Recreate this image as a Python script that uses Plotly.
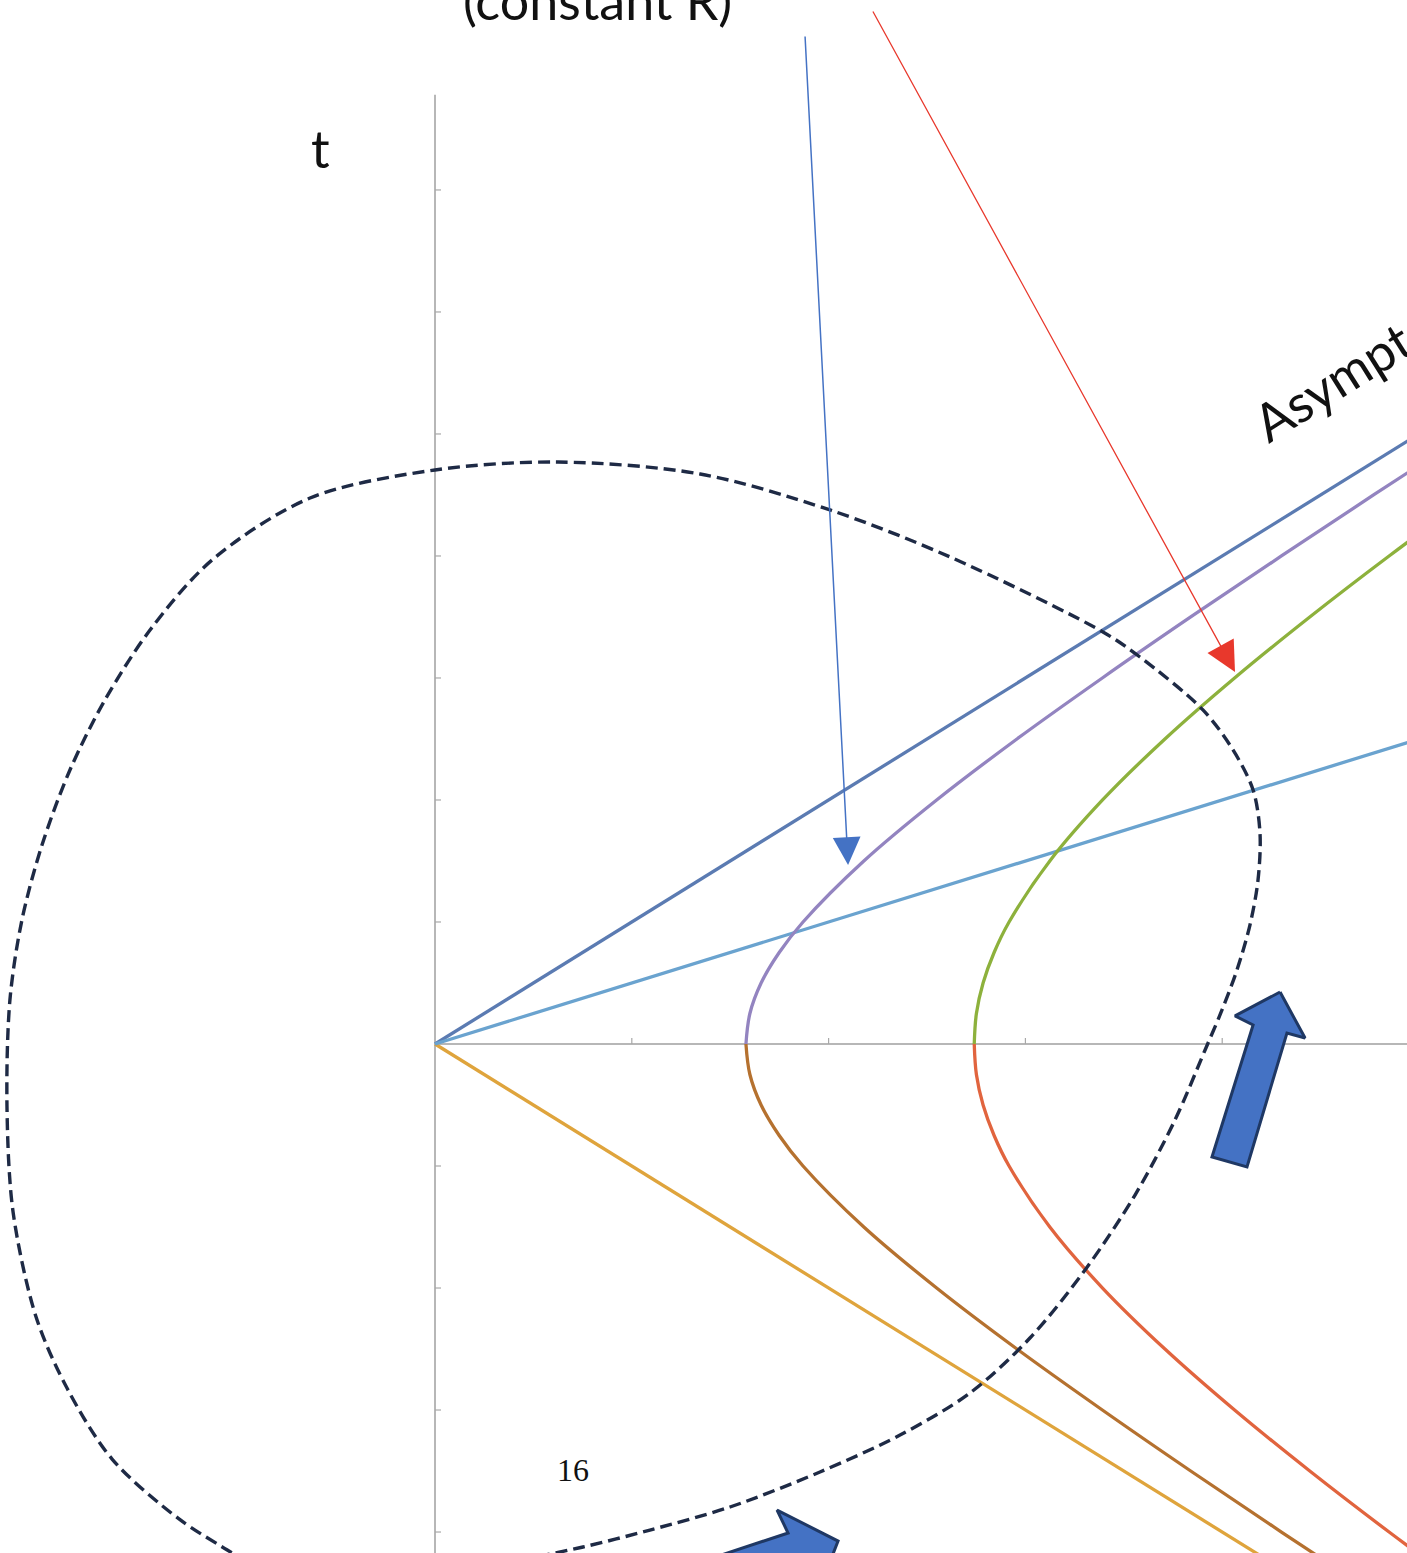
import plotly.graph_objects as go

# ---------------- data (axis units = tick spacing) ----------------
X_TICKS = [1, 2, 3, 4]
T_TICKS = [-4, -3, -2, -1, 1, 2, 3, 4, 5, 6, 7]
T_AXIS_TOP = 7.78

# straight lines through the origin: (end x, end t)
ASYMPTOTE_END = (5.0, 5.0)      # t = x
ETA_LINE_END = (5.0, 2.5)       # constant-eta line
LOWER_ASYMPTOTE_END = (5.0, -5.0)

# hyperbola branches (constant R): t values and x values
BRANCH_T = [0, 0.25, 0.5, 0.75, 1, 1.5, 2, 2.5, 3, 3.5, 4, 4.5, 5]
INNER_X = [1.58, 1.60, 1.657, 1.749, 1.870, 2.179, 2.549, 2.957, 3.391, 3.840, 4.301, 4.769, 5.244]
OUTER_X = [2.74, 2.751, 2.785, 2.841, 2.917, 3.124, 3.392, 3.709, 4.063, 4.445, 4.848, 5.269, 5.702]

# dashed closed region boundary
LOOP_X = [-0.879, -1.031, -1.301, -1.641, -1.870, -2.027, -2.144, -2.175, -2.160, -2.099,
          -1.997, -1.855, -1.677, -1.448, -1.133, -0.635, 0.0, 0.625, 1.347, 2.007,
          2.617, 3.394, 3.582, 3.902, 4.055, 4.157, 4.192, 4.182, 4.141, 4.075,
          3.999, 3.913, 3.760, 3.557, 3.303, 3.023, 2.718, 2.363, 1.956, 1.499,
          1.092, 0.752, 0.330]
LOOP_T = [-4.328, -4.172, -3.893, -3.402, -2.820, -2.238, -1.377, -0.508, 0.361, 1.016,
          1.631, 2.246, 2.820, 3.393, 3.967, 4.475, 4.705, 4.770, 4.672, 4.377,
          3.992, 3.377, 3.172, 2.738, 2.410, 2.082, 1.730, 1.344, 0.975, 0.607,
          0.279, -0.049, -0.623, -1.238, -1.852, -2.410, -2.861, -3.205, -3.508, -3.795,
          -3.984, -4.123, -4.262]

# block arrows
BLOCK1_X = [4.294, 4.421, 4.329, 4.126, 3.948, 4.157, 4.065, 4.294]
BLOCK1_T = [0.426, 0.049, 0.090, -1.008, -0.926, 0.156, 0.230, 0.426]
BLOCK2_X = [1.347, 1.794, 1.738, 2.048, 1.931, 1.855, 1.423, 1.347]
BLOCK2_T = [-4.246, -4.008, -3.820, -4.074, -4.557, -4.434, -4.639, -4.246]

# pointer arrows: (tail x, tail t, tip x, tip t)
BLUE_POINTER = (1.880, 8.270, 2.099, 1.467)
RED_POINTER = (2.221, 8.475, 4.065, 3.049)

# ---------------- layout constants ----------------
W, H = 1407, 1553
X_RANGE = [-2.2104, 4.939]
T_RANGE = [-4.172, 8.557]
PX_PER_X = W / (X_RANGE[1] - X_RANGE[0])
PX_PER_T = H / (T_RANGE[1] - T_RANGE[0])

AXIS_COLOR = "#B7B7B7"
LW = 3.3

fig = go.Figure()

# axes
fig.add_trace(go.Scatter(x=[0, 0], y=[T_RANGE[0] - 1, T_AXIS_TOP], mode="lines",
                         line=dict(color=AXIS_COLOR, width=2), hoverinfo="skip"))
fig.add_trace(go.Scatter(x=[0, X_RANGE[1] + 1], y=[0, 0], mode="lines",
                         line=dict(color=AXIS_COLOR, width=2), hoverinfo="skip"))
tx, ty = [], []
for v in T_TICKS:
    tx += [0, 6 / PX_PER_X, None]
    ty += [v, v, None]
for v in X_TICKS:
    tx += [v, v, None]
    ty += [0, 6 / PX_PER_T, None]
fig.add_trace(go.Scatter(x=tx, y=ty, mode="lines", line=dict(color="#A8A8A8", width=1.2),
                         hoverinfo="skip"))

# straight lines
fig.add_trace(go.Scatter(x=[0, LOWER_ASYMPTOTE_END[0]], y=[0, LOWER_ASYMPTOTE_END[1]], mode="lines",
                         line=dict(color="#DFA43C", width=LW)))
fig.add_trace(go.Scatter(x=[0, ASYMPTOTE_END[0]], y=[0, ASYMPTOTE_END[1]], mode="lines",
                         line=dict(color="#5B7BB2", width=LW)))
fig.add_trace(go.Scatter(x=[0, ETA_LINE_END[0]], y=[0, ETA_LINE_END[1]], mode="lines",
                         line=dict(color="#6AA3CF", width=LW)))

# hyperbolas
neg_t = [-v for v in BRANCH_T]
fig.add_trace(go.Scatter(x=INNER_X, y=BRANCH_T, mode="lines", line=dict(color="#9384C0", width=LW, shape="spline")))
fig.add_trace(go.Scatter(x=INNER_X, y=neg_t, mode="lines", line=dict(color="#B5712F", width=LW, shape="spline")))
fig.add_trace(go.Scatter(x=OUTER_X, y=BRANCH_T, mode="lines", line=dict(color="#8DB13C", width=LW, shape="spline")))
fig.add_trace(go.Scatter(x=OUTER_X, y=neg_t, mode="lines", line=dict(color="#E1643E", width=LW, shape="spline")))

# dashed loop
fig.add_trace(go.Scatter(x=LOOP_X, y=LOOP_T, mode="lines",
                         line=dict(color="#1E2A45", width=3.4, dash="12px,6px", shape="spline", smoothing=0.9)))

# block arrows
for bx, bt in [(BLOCK1_X, BLOCK1_T), (BLOCK2_X, BLOCK2_T)]:
    fig.add_trace(go.Scatter(x=bx, y=bt, mode="lines", fill="toself", fillcolor="#4472C4",
                             line=dict(color="#1F3864", width=3)))

annotations = []
# pointer arrows
for (ax_, at_, x_, t_), col, w_, s_ in [(BLUE_POINTER, "#4472C4", 1.5, 3.7), (RED_POINTER, "#E8382C", 1.3, 4.6)]:
    annotations.append(dict(x=x_, y=t_, ax=ax_, ay=at_, xref="x", yref="y", axref="x", ayref="y",
                            text="", showarrow=True, arrowhead=2, arrowsize=s_, arrowwidth=w_,
                            arrowcolor=col, standoff=0, startstandoff=0))

TEXT_FONT = "Lato, 'Open Sans', sans-serif"
annotations.append(dict(x=0.425, y=1.0, xref="paper", yref="paper", text="(constant R)", showarrow=False,
                        xanchor="center", yanchor="middle", font=dict(family=TEXT_FONT, size=52, color="#111111")))
annotations.append(dict(x=-0.584, y=7.344, xref="x", yref="y", text="t", showarrow=False,
                        xanchor="center", yanchor="middle", font=dict(family=TEXT_FONT, size=52, color="#111111")))
annotations.append(dict(x=4.72, y=5.60, xref="x", yref="y", text="Asymptote", showarrow=False, textangle=-32,
                        xanchor="center", yanchor="middle", font=dict(family=TEXT_FONT, size=52, color="#111111")))
annotations.append(dict(x=0.701, y=-3.492, xref="x", yref="y", text="16", showarrow=False,
                        xanchor="center", yanchor="middle",
                        font=dict(family="'Liberation Serif', 'DejaVu Serif', serif", size=32, color="#111111")))

fig.update_layout(
    width=W, height=H, margin=dict(l=0, r=0, t=0, b=0),
    paper_bgcolor="white", plot_bgcolor="white", showlegend=False,
    xaxis=dict(range=X_RANGE, visible=False, fixedrange=True),
    yaxis=dict(range=T_RANGE, visible=False, fixedrange=True),
    annotations=annotations,
)

fig.write_html("out.html", config={"displayModeBar": False},
               post_script="document.body.style.margin='0px';document.body.style.overflow='hidden';")
